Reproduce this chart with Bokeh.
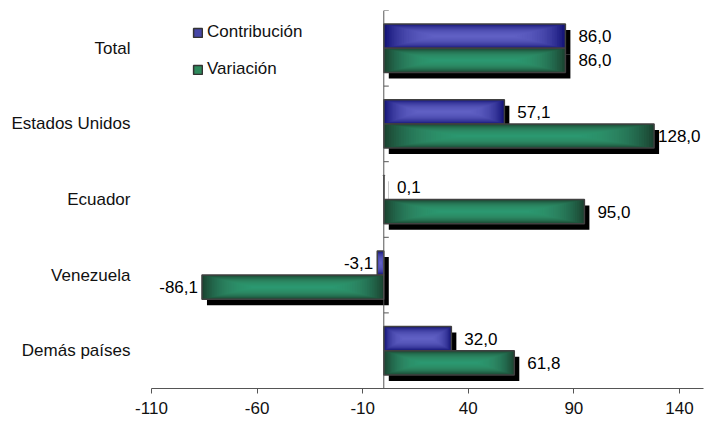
import numpy as np
from bokeh.plotting import figure
from bokeh.models import (Range1d, FixedTicker, Span, Legend, LegendItem)
from bokeh.core.properties import value
from bokeh.embed import file_html
from bokeh.resources import INLINE

# ---- data ----
categories = ["Total", "Estados Unidos", "Ecuador", "Venezuela", "Demás países"]
contribucion = [86.0, 57.1, 0.1, -3.1, 32.0]
variacion = [86.0, 128.0, 95.0, -86.1, 61.8]
x_ticks = [-110, -60, -10, 40, 90, 140]
x_tick_labels = ["-110", "-60", "-10", "40", "90", "140"]
series_names = ["Contribución", "Variación"]

# ---- style ----
FONT = "Liberation Sans"
BLUE_DARK, BLUE_LIGHT, BLUE_LEG = "#121276", "#6e6ed2", "#4646a6"
GREEN_DARK, GREEN_LIGHT, GREEN_LEG = "#1a4330", "#3cb07c", "#2e8a5c"
OUTLINE = "#404040"
X_START, X_END = -110, 151.4
PX_PER_UNIT = 528 / 250.0
BAR_H = 0.32
LABEL_PX = 17

n = len(categories)
centers = np.array([n - 1 - i + 0.5 for i in range(n)])
y_blue = centers + BAR_H / 2
y_green = centers - BAR_H / 2

p = figure(width=715, height=422, x_range=Range1d(X_START, X_END), y_range=Range1d(0, n),
           output_backend="svg", toolbar_location=None,
           min_border_left=151, min_border_right=12, min_border_top=10, min_border_bottom=34)
p.outline_line_color = None
p.xgrid.visible = False
p.ygrid.visible = False
p.background_fill_color = "white"

dx = 5 / PX_PER_UNIT
dy = 6 / 75.6


def draw_shadow(vals, ys):
    v = np.array(vals, dtype=float)
    lo = np.minimum(0, v)
    hi = np.maximum(0, v)
    p.quad(left=lo + dx, right=hi + dx, top=ys + BAR_H / 2 - dy, bottom=ys - BAR_H / 2 - dy,
           fill_color="black", line_color=None)


def draw_bars(vals, ys, dark, light):
    v = np.array(vals, dtype=float)
    lo = np.minimum(0, v)
    hi = np.maximum(0, v)
    w = hi - lo
    p.hbar(y=ys, left=lo, right=hi, height=BAR_H, fill_color=dark, line_color=None)
    N = 30
    for k in range(1, N + 1):
        fh = 1 - 0.94 * k / N
        fw = 1 - 0.55 * k / N
        shrink = (1 - fw) / 2 * w
        p.hbar(y=ys, left=lo + shrink, right=hi - shrink, height=BAR_H * fh,
               fill_color=light, fill_alpha=0.07, line_color=None)
    p.hbar(y=ys, left=lo, right=hi, height=BAR_H, fill_color=None,
           line_color=OUTLINE, line_width=1.5)


draw_shadow(contribucion, y_blue)
draw_shadow(variacion, y_green)
draw_bars(contribucion, y_blue, BLUE_DARK, BLUE_LIGHT)
draw_bars(variacion, y_green, GREEN_DARK, GREEN_LIGHT)

# vertical axis at zero
p.add_layout(Span(location=0, dimension="height", line_color="#555555", line_width=1))
p.ray(x=np.zeros(n + 1), y=np.arange(n + 1), length=5, length_units="screen", angle=0,
      line_color="#555555", line_width=1)


def fmt(v):
    return f"{v:.1f}".replace(".", ",")


def right_offset(v):
    # default gap of 13px, reduced when the label would not fit before the frame edge
    text_w = LABEL_PX * 0.556 * (len(fmt(v)) - 1) + LABEL_PX * 0.278
    room = (X_END - v) * PX_PER_UNIT - text_w - 3
    return max(3, min(13, room))


for vals, ys in ((contribucion, y_blue), (variacion, y_green)):
    pos = [(v, y) for v, y in zip(vals, ys) if v >= 0]
    neg = [(v, y) for v, y in zip(vals, ys) if v < 0]
    if pos:
        p.text(x=[a for a, b in pos], y=[b for a, b in pos], text=[fmt(a) for a, b in pos],
               text_align="left", text_baseline="middle",
               x_offset=[right_offset(a) for a, b in pos],
               text_font=value(FONT), text_font_size=f"{LABEL_PX}px", text_color="black")
    if neg:
        p.text(x=[a for a, b in neg], y=[b for a, b in neg], text=[fmt(a) for a, b in neg],
               text_align="right", text_baseline="middle", x_offset=-4,
               text_font=value(FONT), text_font_size=f"{LABEL_PX}px", text_color="black")

# axes
xa = p.xaxis[0]
xa.ticker = FixedTicker(ticks=x_ticks)
xa.major_label_overrides = {t: s for t, s in zip(x_ticks, x_tick_labels)}
xa.axis_line_color = "#555555"
xa.major_tick_line_color = "#555555"
xa.major_tick_out = 5
xa.major_tick_in = 0
xa.minor_tick_line_color = None
xa.major_label_standoff = 8
xa.major_label_text_font = FONT
xa.major_label_text_font_size = "17px"
xa.major_label_text_color = "#111111"

ya = p.yaxis[0]
ya.ticker = FixedTicker(ticks=list(centers))
ya.major_label_overrides = {float(c): name for c, name in zip(centers, categories)}
ya.axis_line_color = None
ya.major_tick_line_color = None
ya.minor_tick_line_color = None
ya.major_label_standoff = 15
ya.major_label_text_font = FONT
ya.major_label_text_font_size = "17px"
ya.major_label_text_color = "#111111"

# legend (renderers with no visible data, used only for the swatches)
rb = p.rect(x=[np.nan], y=[np.nan], width=1, height=1, fill_color=BLUE_LEG,
            line_color="#333333", line_width=1.5)
rg = p.rect(x=[np.nan], y=[np.nan], width=1, height=1, fill_color=GREEN_LEG,
            line_color="#333333", line_width=1.5)
legend = Legend(items=[LegendItem(label=series_names[0], renderers=[rb]),
                       LegendItem(label=series_names[1], renderers=[rg])],
                location=(41, 309), padding=0, margin=0, spacing=17,
                glyph_width=11, glyph_height=11, label_standoff=4, label_height=20,
                label_text_font=FONT, label_text_font_size="17px", label_text_color="#111111",
                border_line_alpha=0, background_fill_alpha=0)
p.add_layout(legend)

open("out.html", "w").write(file_html(p, INLINE))
